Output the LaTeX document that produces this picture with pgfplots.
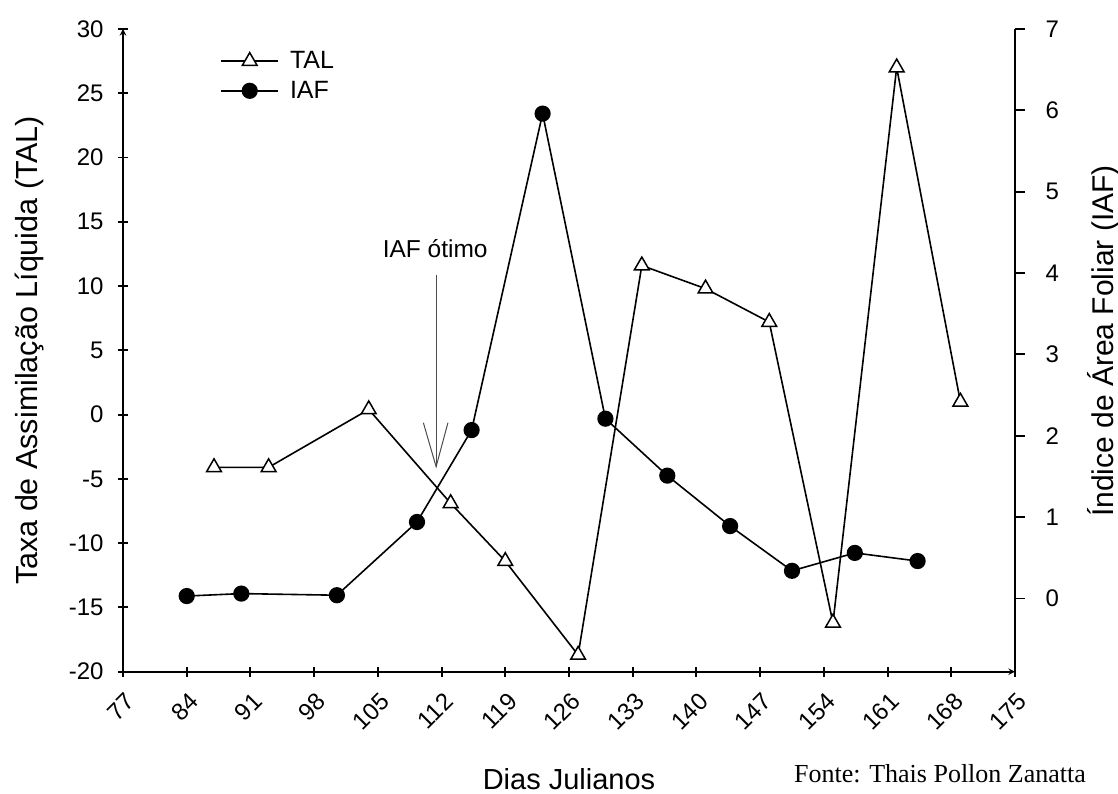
\documentclass[border=0pt]{standalone}
\usepackage{fontspec}
\setmainfont{Liberation Sans}
\newfontfamily\seriffont{Liberation Serif}
\usepackage{pgfplots}
\pgfplotsset{compat=1.18}

\pgfplotsset{
  common/.style={
    scale only axis, width=892pt, height=642.7pt,
    xmin=77, xmax=175,
    axis line style={-, line width=1.9pt},
    every tick/.style={black, line width=1.9pt},
    tick align=outside, major tick length=10pt,
    /pgf/number format/assume math mode=true,
    ticklabel style={font=\fontsize{24}{28}\selectfont},
    clip=false,
  }
}

\begin{document}
\begin{tikzpicture}
\begin{axis}[common,
  ymin=-20, ymax=30,
  axis x line=bottom, axis y line=left,
  xtick={77,84,...,175}, ytick={-20,-15,...,30},
  xticklabel style={rotate=45, anchor=north east, xshift=-6pt, yshift=-8pt},
  yticklabel style={xshift=-11pt},
  xlabel={Dias Julianos},
  ylabel={Taxa de Assimilação Líquida (TAL)},
  xlabel style={at={(axis description cs:0.5,-0.1830)}, anchor=base, font=\fontsize{29}{34}\selectfont},
  ylabel style={at={(axis description cs:-0.0964,0.5)}, anchor=base, rotate=0, font=\fontsize{30.5}{35}\selectfont},
  legend style={at={(axis description cs:0.109,0.968)}, anchor=north west, draw=none, fill=none,
    font=\fontsize{25}{29}\selectfont, row sep=7pt, column sep=9pt, inner sep=0pt},
  legend cell align=left,
  legend image code/.code={\draw[mark repeat=2, mark phase=2] plot coordinates {(0pt,0pt) (28.5pt,0pt) (57pt,0pt)};},
]
\addplot[black, line width=1.6pt, mark=triangle*, mark size=8.5pt,
  mark options={fill=white, draw=black, line width=1.5pt}] coordinates {
  (87,-4.1) (93,-4.1) (104,0.4) (113,-6.9) (119,-11.4) (127,-18.7)
  (134,11.6) (141,9.8) (148,7.2) (155,-16.2) (162,27.0) (169,1.0)
};
\addlegendentry{TAL}
\addlegendimage{black, line width=1.6pt, mark=*, mark size=7.3pt, mark options={fill=black}}
\addlegendentry{IAF}

\node[anchor=base, font=\fontsize{24.5}{28}\selectfont] at (axis cs:111.3,12.2) {IAF ótimo};
\draw[black!70, line width=1pt] (axis cs:111.4,10.9) -- (axis cs:111.4,-4.05);
\draw[black!70, line width=1pt] (axis cs:110.0,-0.63) -- (axis cs:111.4,-4.05) -- (axis cs:112.7,-0.63);

\node[anchor=base west, inner sep=0pt, font=\seriffont\fontsize{26}{30}\selectfont]
  at (axis description cs:0.7522,-0.1727) {Fonte: Thais Pollon Zanatta};
\end{axis}

\begin{axis}[common,
  ymin=-0.9, ymax=7,
  axis x line=none, axis y line*=right,
  ytick={0,1,...,7},
  yticklabel style={xshift=17pt},
  ylabel={Índice de Área Foliar (IAF)},
  ylabel style={at={(axis description cs:1.110,0.5146)}, anchor=base, rotate=0, font=\fontsize{30}{35}\selectfont},
]
\addplot[black, line width=1.6pt, mark=*, mark size=7.3pt, mark options={fill=black}] coordinates {
  (84,0.03) (90,0.06) (100.5,0.04) (109.3,0.94) (115.3,2.07) (123.1,5.96)
  (130,2.21) (136.8,1.51) (143.7,0.89) (150.5,0.34) (157.4,0.56) (164.3,0.46)
};
\end{axis}
\pgfresetboundingbox
\useasboundingbox (-123pt,-122.3pt) rectangle (995pt,671.7pt);
\end{tikzpicture}
\end{document}
